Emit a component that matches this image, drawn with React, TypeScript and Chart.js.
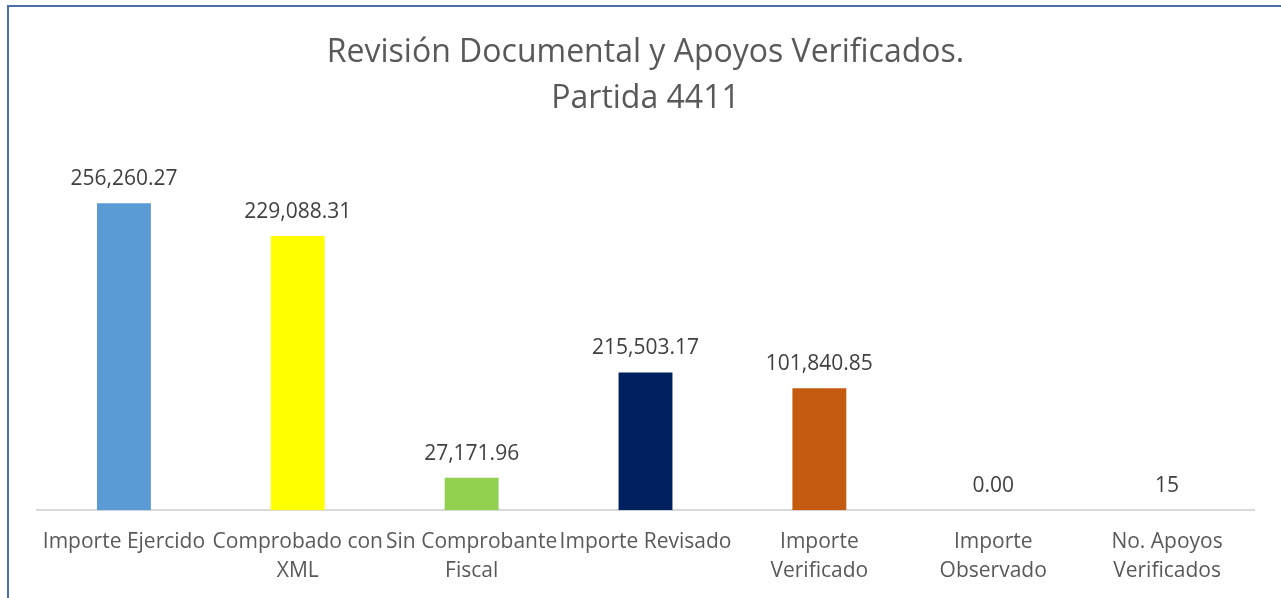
import React, { useEffect, useRef } from "react";
import { Chart, registerables } from "chart.js";

Chart.register(...registerables);

const titleLines = ["Revisión Documental y Apoyos Verificados.", "Partida 4411"];
const categories: (string | string[])[] = [
  "Importe Ejercido",
  ["Comprobado con", "XML"],
  ["Sin Comprobante", "Fiscal"],
  "Importe Revisado",
  ["Importe", "Verificado"],
  ["Importe", "Observado"],
  ["No. Apoyos", "Verificados"],
];
const barValues = [256260.27, 229088.31, 27171.96, 115000, 101840.85, 0, 15];
const valueLabels = ["256,260.27", "229,088.31", "27,171.96", "215,503.17", "101,840.85", "0.00", "15"];
const barColors = ["#5B9BD5", "#FFFF00", "#92D050", "#002060", "#C55A11", "#A5A5A5", "#4472C4"];

const FONT = "'Open Sans', 'Noto Sans', sans-serif";

const decorPlugin = {
  id: "decor",
  beforeDraw(chart: any) {
    const ctx = chart.ctx;
    ctx.save();
    ctx.fillStyle = "#ffffff";
    ctx.fillRect(0, 0, chart.width, chart.height);
    ctx.fillStyle = "#4A6BA5";
    ctx.fillRect(7, 5, chart.width - 7, 2);
    ctx.fillRect(7, 5, 2, chart.height - 5);
    ctx.restore();
  },
  afterDatasetsDraw(chart: any) {
    const ctx = chart.ctx;
    const meta = chart.getDatasetMeta(0);
    ctx.save();
    ctx.font = `21px ${FONT}`;
    ctx.fillStyle = "#404040";
    ctx.textAlign = "center";
    ctx.textBaseline = "middle";
    meta.data.forEach((bar: any, i: number) => {
      ctx.fillText(valueLabels[i], bar.x, bar.y - 24);
    });
    const cx = (chart.chartArea.left + chart.chartArea.right) / 2;
    ctx.font = `32px ${FONT}`;
    ctx.fillStyle = "#595959";
    ctx.fillText(titleLines[0], cx, 53);
    ctx.fillText(titleLines[1], cx, 99);
    ctx.restore();
  },
};

export default function App() {
  const ref = useRef<HTMLCanvasElement>(null);
  useEffect(() => {
    document.body.style.margin = "0";
    const chart = new Chart(ref.current!, {
      type: "bar",
      data: {
        labels: categories,
        datasets: [
          {
            data: barValues,
            backgroundColor: barColors,
            borderWidth: 0,
            barPercentage: 0.62,
            categoryPercentage: 0.5,
          },
        ],
      },
      options: {
        responsive: false,
        animation: false,
        layout: { padding: { left: 37, right: 27, top: 151, bottom: -5 } },
        plugins: { legend: { display: false }, title: { display: false }, tooltip: { enabled: false } },
        scales: {
          x: {
            grid: { display: false, drawTicks: false },
            border: { display: true, color: "#D9D9D9", width: 2 },
            ticks: {
              autoSkip: false,
              maxRotation: 0,
              minRotation: 0,
              color: "#595959",
              padding: 17,
              font: { family: FONT, size: 21, lineHeight: 1.4 },
            },
          },
          y: { display: false, min: 0, max: 300000 },
        },
      },
      plugins: [decorPlugin],
    });
    return () => chart.destroy();
  }, []);
  return (
    <div style={{ width: 1281, height: 598 }}>
      <canvas ref={ref} width={1281} height={598} style={{ display: "block" }} />
    </div>
  );
}
